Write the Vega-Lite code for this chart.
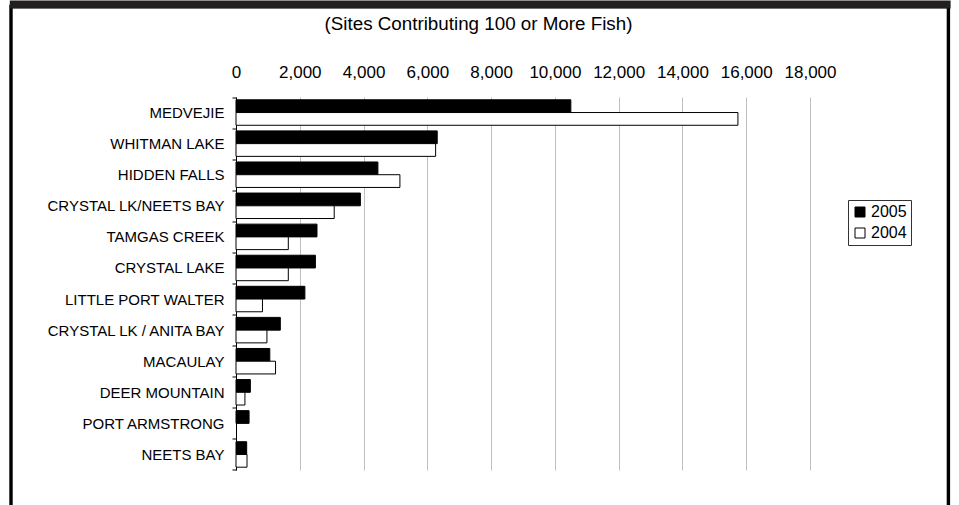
{
  "$schema": "https://vega.github.io/schema/vega-lite/v6.json",
  "autosize": {"type": "none"},
  "padding": {"left": 11, "top": 6.5, "right": 10.6, "bottom": 0},
  "width": 937.4,
  "height": 510,
  "background": "white",
  "view": {"stroke": "black", "strokeWidth": 3.4, "fill": "white"},
  "config": {"font": "Liberation Sans"},
  "resolve": {"scale": {"x": "independent"}, "axis": {"x": "independent"}},
  "layer": [
    {
      "data": {
        "values": [
          {"site": "MEDVEJIE", "year": "2005", "value": 10500},
          {"site": "MEDVEJIE", "year": "2004", "value": 15740},
          {"site": "WHITMAN LAKE", "year": "2005", "value": 6310},
          {"site": "WHITMAN LAKE", "year": "2004", "value": 6260},
          {"site": "HIDDEN FALLS", "year": "2005", "value": 4450},
          {"site": "HIDDEN FALLS", "year": "2004", "value": 5140},
          {"site": "CRYSTAL LK/NEETS BAY", "year": "2005", "value": 3900},
          {"site": "CRYSTAL LK/NEETS BAY", "year": "2004", "value": 3080},
          {"site": "TAMGAS CREEK", "year": "2005", "value": 2540},
          {"site": "TAMGAS CREEK", "year": "2004", "value": 1640},
          {"site": "CRYSTAL LAKE", "year": "2005", "value": 2490},
          {"site": "CRYSTAL LAKE", "year": "2004", "value": 1640},
          {"site": "LITTLE PORT WALTER", "year": "2005", "value": 2160},
          {"site": "LITTLE PORT WALTER", "year": "2004", "value": 830},
          {"site": "CRYSTAL LK / ANITA BAY", "year": "2005", "value": 1390},
          {"site": "CRYSTAL LK / ANITA BAY", "year": "2004", "value": 970},
          {"site": "MACAULAY", "year": "2005", "value": 1060},
          {"site": "MACAULAY", "year": "2004", "value": 1240},
          {"site": "DEER MOUNTAIN", "year": "2005", "value": 450},
          {"site": "DEER MOUNTAIN", "year": "2004", "value": 280},
          {"site": "PORT ARMSTRONG", "year": "2005", "value": 410},
          {"site": "NEETS BAY", "year": "2005", "value": 335},
          {"site": "NEETS BAY", "year": "2004", "value": 345}
        ]
      },
      "mark": {"type": "bar", "stroke": "black", "strokeWidth": 1},
      "encoding": {
        "y": {
          "field": "site",
          "type": "nominal",
          "sort": null,
          "scale": {"range": [90.5, 463.5], "paddingInner": 0, "paddingOuter": 0},
          "axis": {
            "orient": "left",
            "offset": -225,
            "title": null,
            "grid": false,
            "domainColor": "black",
            "domainWidth": 1,
            "tickColor": "black",
            "tickSize": 4,
            "tickBand": "extent",
            "labelPadding": 8,
            "labelFontSize": 15,
            "labelColor": "black"
          }
        },
        "yOffset": {
          "field": "year",
          "type": "nominal",
          "sort": ["2005", "2004"],
          "scale": {"paddingInner": 0, "paddingOuter": 0.22}
        },
        "x": {
          "field": "value",
          "type": "quantitative",
          "scale": {"domain": [0, 18000], "range": [225, 799], "nice": false},
          "axis": {
            "orient": "top",
            "offset": -66,
            "title": "(Sites Contributing 100 or More Fish)",
            "titleFontSize": 18.8,
            "titleFontWeight": "normal",
            "titleColor": "black",
            "titleX": 467,
            "titleY": -43.5,
            "titleAlign": "center",
            "titleBaseline": "alphabetic",
            "titleAnchor": null,
            "values": [0, 2000, 4000, 6000, 8000, 10000, 12000, 14000, 16000, 18000],
            "format": ",d",
            "ticks": false,
            "tickSize": 0,
            "domain": false,
            "labelPadding": 0,
            "labelBaseline": "middle",
            "labelFontSize": 17,
            "labelColor": "black",
            "labelFlush": false,
            "labelOverlap": false,
            "grid": true,
            "gridColor": "#c0c0c0",
            "gridWidth": 1
          }
        },
        "color": {
          "field": "year",
          "type": "nominal",
          "scale": {"domain": ["2005", "2004"], "range": ["black", "white"]},
          "legend": {
            "orient": "none",
            "legendX": 837,
            "legendY": 193.5,
            "title": null,
            "strokeColor": "#333333",
            "fillColor": "white",
            "padding": 4,
            "symbolType": "square",
            "symbolSize": 100,
            "symbolStrokeColor": "black",
            "symbolStrokeWidth": 1,
            "symbolOpacity": 1,
            "labelFontSize": 16,
            "labelColor": "black",
            "rowPadding": 5,
            "labelOffset": 3
          }
        }
      }
    },
    {
      "data": {"values": []},
      "mark": {"type": "rule"},
      "encoding": {
        "x": {
          "field": "v",
          "type": "quantitative",
          "scale": {"domain": [0, 1], "range": [-1.7, 939.1], "nice": false},
          "axis": {
            "orient": "top",
            "offset": 2.5,
            "title": null,
            "labels": false,
            "ticks": false,
            "grid": false,
            "domain": true,
            "domainColor": "#231f20",
            "domainWidth": 8,
            "domainCap": "butt"
          }
        }
      }
    }
  ]
}
